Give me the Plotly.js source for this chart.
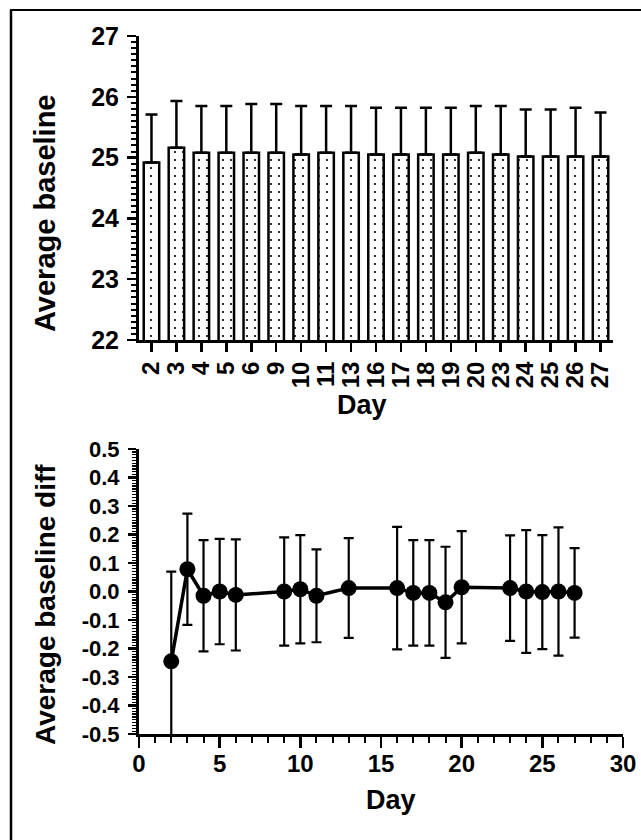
<!DOCTYPE html>
<html>
<head>
<meta charset="utf-8">
<script src="https://cdn.plot.ly/plotly-3.0.1.min.js"></script>
<style>
html,body{margin:0;padding:0;background:#fff;}
#chart{width:641px;height:840px;}
</style>
</head>
<body>
<div id="chart"></div>
<script>
// ---- data ----
var dayCategories = ['2','3','4','5','6','9','10','11','13','16','17','18','19','20','23','24','25','26','27'];
var baselineMean = [24.92,25.16,25.08,25.08,25.08,25.08,25.05,25.08,25.08,25.05,25.05,25.05,25.05,25.08,25.05,25.02,25.02,25.02,25.02];
var baselineErr  = [0.79,0.77,0.77,0.77,0.80,0.80,0.80,0.77,0.77,0.77,0.77,0.77,0.77,0.77,0.80,0.77,0.77,0.80,0.72];

var diffDays = [2,3,4,5,6,9,10,11,13,16,17,18,19,20,23,24,25,26,27];
var diffMean = [-0.245,0.078,-0.015,0.0,-0.012,0.0,0.008,-0.015,0.012,0.012,-0.005,-0.005,-0.038,0.015,0.012,0.0,-0.002,0.0,-0.005];
var diffErr  = [0.315,0.195,0.195,0.185,0.195,0.19,0.19,0.163,0.175,0.215,0.185,0.185,0.195,0.197,0.185,0.215,0.2,0.225,0.157];

var diffTickVals = [-0.5,-0.4,-0.3,-0.2,-0.1,0,0.1,0.2,0.3,0.4,0.5];
var diffTickText = ['-0.5','-0.4','-0.3','-0.2','-0.1','0.0','0.1','0.2','0.3','0.4','0.5'];

// ---- helpers (pixel -> paper) ----
var W = 641, H = 840;
function px(x){ return x / W; }
function py(y){ return 1 - y / H; }

var FONT = 'Liberation Sans, Arial, Helvetica, sans-serif';
function f(size){ return {family: FONT, size: size, color: '#000', weight: 'bold'}; }

var zeros = baselineMean.map(function(){ return 0; });

var traces = [
  {
    type: 'bar', x: dayCategories, y: baselineMean, xaxis: 'x', yaxis: 'y', width: 0.62,
    marker: {color: '#fff', line: {color: '#000', width: 2.5},
      pattern: {shape: '.', fgcolor: '#000', bgcolor: '#fff', size: 8, solidity: 0.06}},
    error_y: {type: 'data', symmetric: false, array: baselineErr, arrayminus: zeros,
              color: '#000', thickness: 2.5, width: 6},
    hoverinfo: 'skip'
  },
  {
    type: 'scatter', mode: 'lines+markers', x: diffDays, y: diffMean, xaxis: 'x2', yaxis: 'y2',
    line: {color: '#000', width: 3.5}, marker: {color: '#000', size: 16},
    error_y: {type: 'data', array: diffErr, color: '#000', thickness: 2.2, width: 5},
    hoverinfo: 'skip'
  }
];

var layout = {
  width: W, height: H,
  margin: {l: 0, r: 0, t: 0, b: 0},
  paper_bgcolor: '#fff',
  plot_bgcolor: 'rgba(0,0,0,0)',
  showlegend: false,
  xaxis: {
    domain: [px(139), px(613)], anchor: 'y', type: 'category', range: [-0.5, 18.5],
    tickmode: 'array', tickvals: dayCategories, ticktext: dayCategories,
    showline: true, linewidth: 3, linecolor: '#000', showgrid: false, zeroline: false,
    ticks: 'outside', ticklen: 9, tickwidth: 2.5, tickcolor: '#000', tickangle: -90, tickfont: f(24)
  },
  yaxis: {
    domain: [py(340), py(36)], anchor: 'x', range: [22, 27], dtick: 1,
    showline: true, linewidth: 3, linecolor: '#000', showgrid: false, zeroline: false,
    ticks: 'outside', ticklen: 9, tickwidth: 2.5, tickcolor: '#000', ticklabelstandoff: 3, tickfont: f(25),
    minor: {dtick: 0.1, ticks: 'outside', ticklen: 5, tickwidth: 2, tickcolor: '#000', showgrid: false}
  },
  xaxis2: {
    domain: [px(139), px(623)], anchor: 'y2', range: [0, 30], dtick: 5,
    showline: true, linewidth: 3, linecolor: '#000', showgrid: false, zeroline: false,
    ticks: 'outside', ticklen: 11, tickwidth: 2.5, tickcolor: '#000', ticklabelstandoff: -5, tickfont: f(24),
    minor: {dtick: 1, ticks: 'outside', ticklen: 6, tickwidth: 2, tickcolor: '#000', showgrid: false}
  },
  yaxis2: {
    domain: [py(734), py(449)], anchor: 'x2', range: [-0.5, 0.5],
    tickmode: 'array', tickvals: diffTickVals, ticktext: diffTickText,
    showline: true, linewidth: 3, linecolor: '#000', showgrid: false, zeroline: false,
    ticks: 'outside', ticklen: 8, tickwidth: 2.5, tickcolor: '#000', ticklabelstandoff: 4, tickfont: f(22),
    minor: {tickmode: 'linear', tick0: -0.5, dtick: 0.01, ticks: 'outside', ticklen: 4, tickwidth: 1.3, tickcolor: '#000', showgrid: false}
  },
  annotations: [
    {text: 'Average baseline', xref: 'paper', yref: 'paper', x: px(45), y: py(213),
     textangle: -90, showarrow: false, xanchor: 'center', yanchor: 'middle', font: f(29)},
    {text: 'Day', xref: 'paper', yref: 'paper', x: px(362), y: py(405),
     showarrow: false, xanchor: 'center', yanchor: 'middle', font: f(27)},
    {text: 'Average baseline diff', xref: 'paper', yref: 'paper', x: px(45), y: py(605),
     textangle: -90, showarrow: false, xanchor: 'center', yanchor: 'middle', font: f(28)},
    {text: 'Day', xref: 'paper', yref: 'paper', x: px(391), y: py(800),
     showarrow: false, xanchor: 'center', yanchor: 'middle', font: f(27)}
  ],
  shapes: [
    {type: 'line', xref: 'paper', yref: 'paper', x0: px(10), x1: 1, y0: py(10), y1: py(10),
     line: {color: '#000', width: 2}},
    {type: 'line', xref: 'paper', yref: 'paper', x0: px(11), x1: px(11), y0: 0, y1: py(10),
     line: {color: '#000', width: 2.5}}
  ]
};

Plotly.newPlot('chart', traces, layout, {staticPlot: true, displayModeBar: false});
</script>
</body>
</html>
